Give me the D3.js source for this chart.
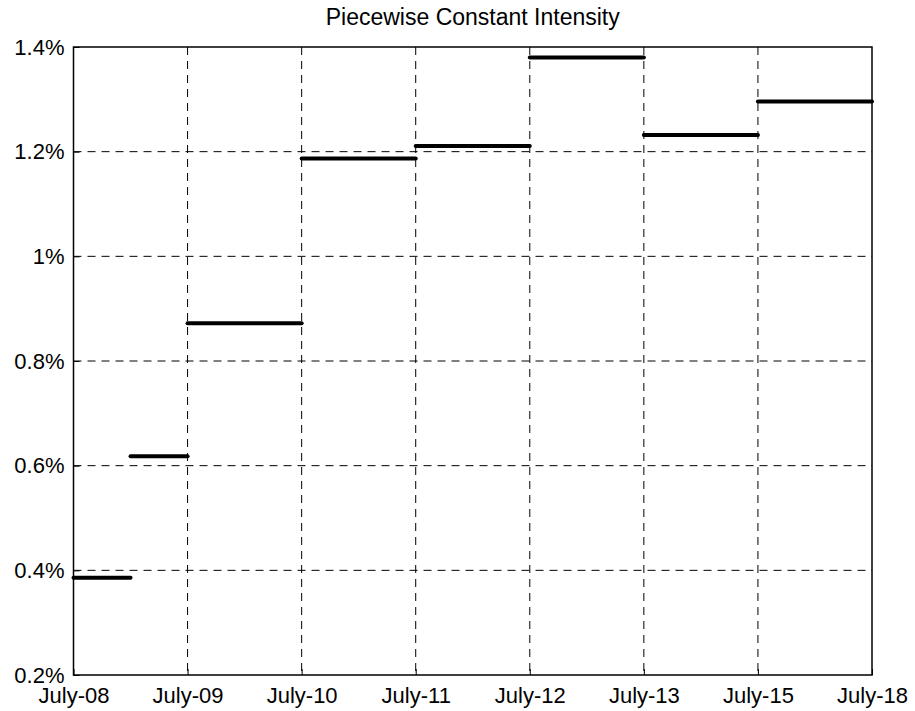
<!DOCTYPE html>
<html>
<head>
<meta charset="utf-8">
<script src="https://cdn.jsdelivr.net/npm/d3@7"></script>
<style>
  html, body { margin: 0; padding: 0; background: #fff; }
  svg { display: block; }
  text { font-family: "Liberation Sans", Arial, sans-serif; fill: #000; }
</style>
</head>
<body>
<script>
const categories = ["July-08", "July-09", "July-10", "July-11", "July-12", "July-13", "July-15", "July-18"];
const segmentStart = [0, 0.5, 1, 2, 3, 4, 5, 6];
const segmentEnd   = [0.5, 1, 2, 3, 4, 5, 6, 7];
const intensity    = [0.386, 0.618, 0.872, 1.187, 1.211, 1.380, 1.232, 1.296];
const yTicks = [0.2, 0.4, 0.6, 0.8, 1.0, 1.2, 1.4];
const title = "Piecewise Constant Intensity";

const W = 915, H = 711;
const m = { left: 73.5, right: 43, top: 47, bottom: 36 };

const svg = d3.select("body").append("svg").attr("width", W).attr("height", H);

const x = d3.scaleLinear().domain([0, categories.length - 1]).range([m.left, W - m.right]);
const y = d3.scaleLinear().domain([0.2, 1.4]).range([H - m.bottom, m.top]);

const fmt = d => (+d.toFixed(1)) + "%";

// grid
const grid = svg.append("g").attr("stroke", "#000").attr("stroke-width", 1).attr("stroke-dasharray", "8,6");
grid.selectAll("line.v").data(d3.range(1, categories.length - 1)).join("line")
  .attr("x1", d => x(d)).attr("x2", d => x(d))
  .attr("y1", y(1.4)).attr("y2", y(0.2));
grid.selectAll("line.h").data(yTicks.slice(1, -1)).join("line")
  .attr("y1", d => y(d)).attr("y2", d => y(d))
  .attr("x1", x(0)).attr("x2", x(categories.length - 1));

// axes
const xAxis = d3.axisBottom(x).tickValues(d3.range(categories.length))
  .tickFormat(i => categories[i]).tickSizeInner(-6).tickSizeOuter(0).tickPadding(14);
const gx = svg.append("g").attr("transform", `translate(0,${y(0.2)})`).call(xAxis);
const yAxis = d3.axisLeft(y).tickValues(yTicks).tickFormat(fmt)
  .tickSizeInner(-6).tickSizeOuter(0).tickPadding(9);
const gy = svg.append("g").attr("transform", `translate(${x(0)},0)`).call(yAxis);
[gx, gy].forEach(g => {
  g.selectAll("text").style("font-size", "22px").style("font-family", "'Liberation Sans', Arial, sans-serif");
  g.select(".domain").remove();
  g.selectAll(".tick line").attr("stroke", "#000");
});
gx.selectAll("text").attr("dy", "0").attr("y", 28);

// box
svg.append("rect")
  .attr("x", x(0)).attr("y", y(1.4))
  .attr("width", x(categories.length - 1) - x(0)).attr("height", y(0.2) - y(1.4))
  .attr("fill", "none").attr("stroke", "#000").attr("stroke-width", 1.5);

// segments
const segs = intensity.map((v, i) => ({ s: segmentStart[i], e: segmentEnd[i], v }));
svg.append("g").selectAll("line").data(segs).join("line")
  .attr("x1", d => x(d.s)).attr("x2", d => x(d.e))
  .attr("y1", d => y(d.v)).attr("y2", d => y(d.v))
  .attr("stroke", "#000").attr("stroke-width", 4).attr("stroke-linecap", "round");

// title
svg.append("text").attr("x", (x(0) + x(categories.length - 1)) / 2).attr("y", 25)
  .attr("text-anchor", "middle").style("font-size", "23px").text(title);
</script>
</body>
</html>
